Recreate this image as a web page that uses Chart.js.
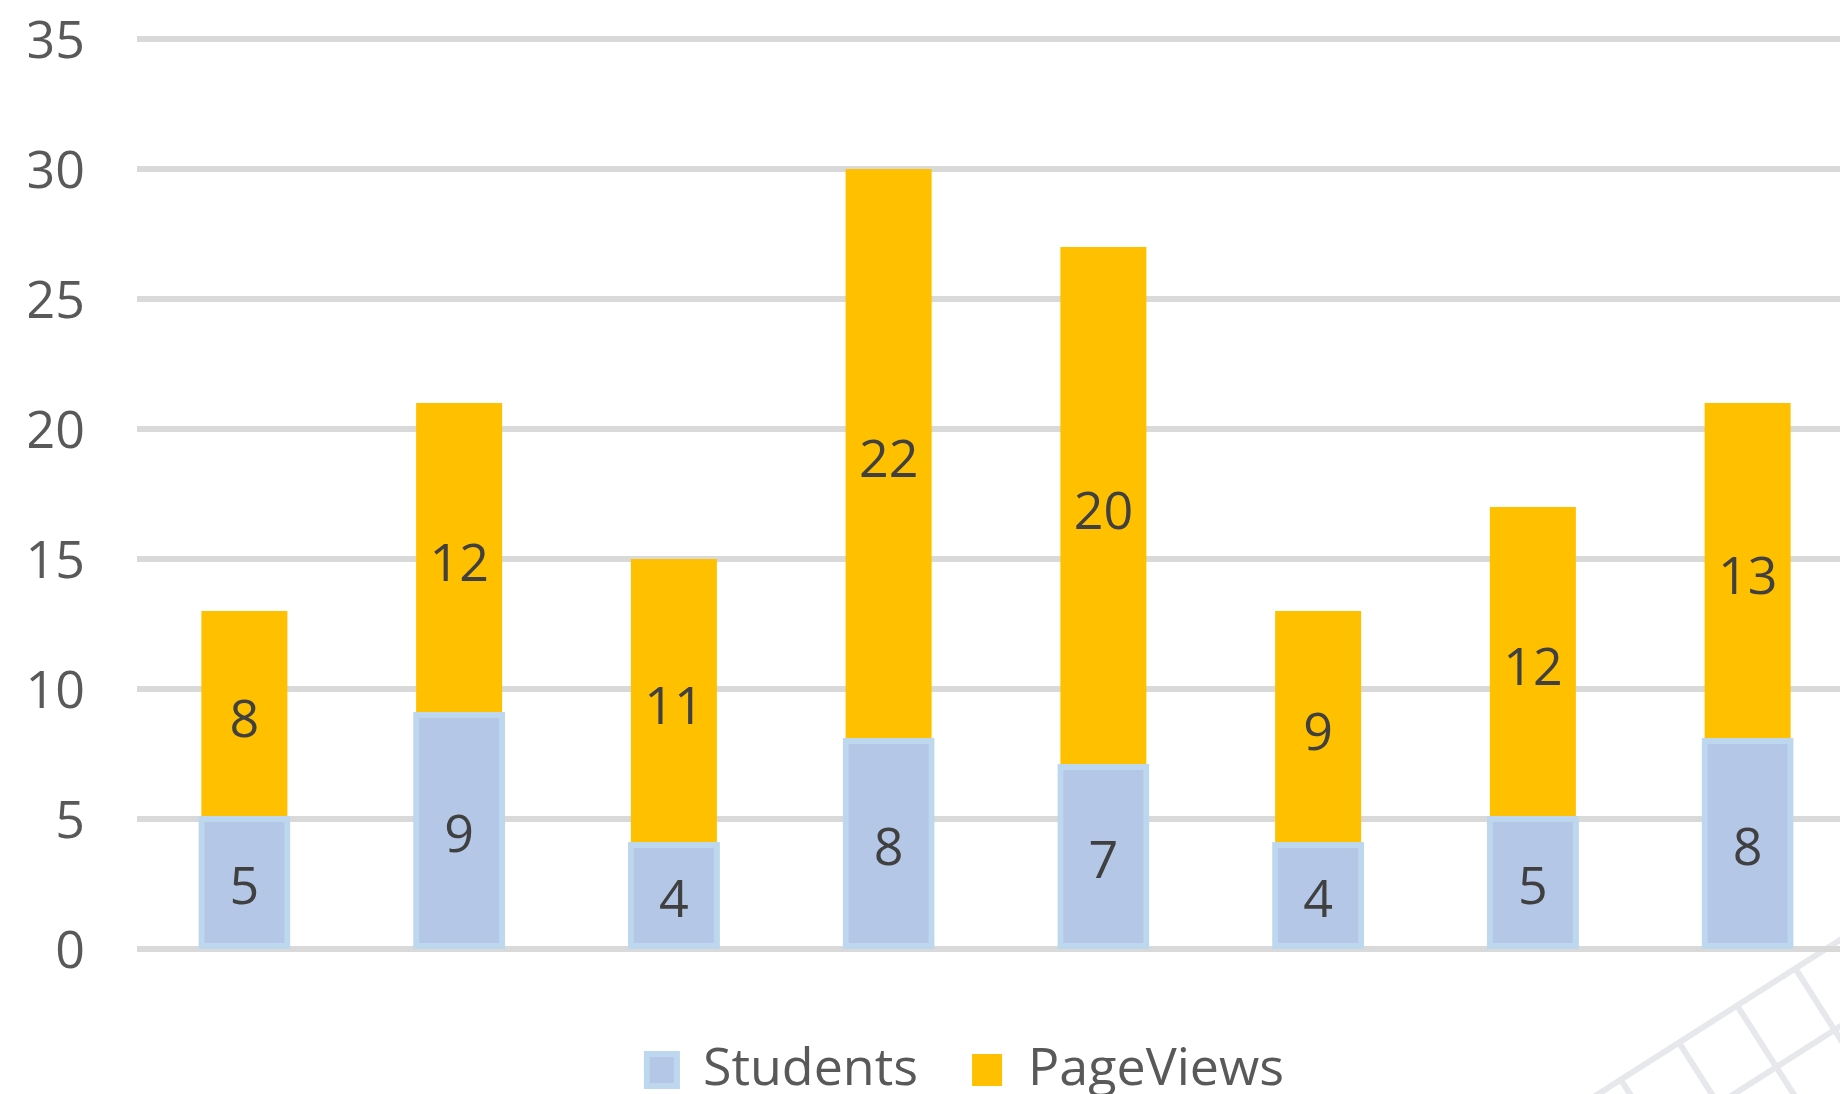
<!DOCTYPE html>
<html>
<head>
<meta charset="utf-8">
<script src="https://cdn.jsdelivr.net/npm/chart.js@4.4.1/dist/chart.umd.min.js"></script>
<style>
  html, body { margin: 0; padding: 0; background: #fff; overflow: hidden; }
  #wrap { width: 1931px; height: 1106px; }
</style>
</head>
<body>
<div id="wrap"><canvas id="chart" width="1931" height="1106"></canvas></div>
<script>
const categories = ['1', '2', '3', '4', '5', '6', '7', '8'];
const students = [5, 9, 4, 8, 7, 4, 5, 8];
const pageViews = [8, 12, 11, 22, 20, 9, 12, 13];
const yMax = 35;
const yStep = 5;

const FONT = '"Open Sans", sans-serif';
const FONT_SIZE = 52;

// faint diagonal grid in the lower right corner of the slide
const watermark = {
    id: 'watermark',
    beforeDraw(chart) {
        const ctx = chart.ctx;
        const ox = 1840, oy = 940;
        const ux = -0.843, uy = 0.537;
        const nx = 0.537, ny = 0.843;
        const len = 700;
        ctx.save();
        ctx.strokeStyle = '#e7e8ec';
        ctx.lineWidth = 6;
        ctx.beginPath();
        for (let k = 0; k < 5; k++) {
            const px = ox + nx * k * 73, py = oy + ny * k * 73;
            ctx.moveTo(px - ux * len, py - uy * len);
            ctx.lineTo(px + ux * len, py + uy * len);
        }
        for (let k = -1; k < 7; k++) {
            const s = 53 + k * 69;
            const px = ox + ux * s, py = oy + uy * s;
            ctx.moveTo(px, py);
            ctx.lineTo(px + nx * len, py + ny * len);
        }
        ctx.stroke();
        ctx.restore();
    }
};

// value in the middle of every stacked segment
const segmentLabels = {
    id: 'segmentLabels',
    afterDatasetsDraw(chart) {
        const ctx = chart.ctx;
        ctx.save();
        ctx.font = FONT_SIZE + 'px ' + FONT;
        ctx.fillStyle = '#404040';
        ctx.textAlign = 'center';
        ctx.textBaseline = 'middle';
        chart.data.datasets.forEach((ds, i) => {
            chart.getDatasetMeta(i).data.forEach((bar, j) => {
                const p = bar.getProps(['x', 'y', 'base'], true);
                // Open Sans sits a little high on "middle"
                ctx.fillText(String(ds.data[j]), p.x, (p.y + p.base) / 2 + 7);
            });
        });
        ctx.restore();
    }
};

// centre the legend on the whole canvas, not on the padded area
const centerLegend = {
    id: 'centerLegend',
    afterLayout(chart) {
        chart.legend.left = 0;
        chart.legend.right = chart.width;
    }
};

new Chart(document.getElementById('chart'), {
    type: 'bar',
    data: {
        labels: categories,
        datasets: [
            {
                label: 'Students',
                data: students,
                backgroundColor: '#b4c7e7',
                borderColor: '#bdd7ee',
                borderWidth: 6,
                borderSkipped: false,
                inflateAmount: 3,
                barThickness: 86
            },
            {
                label: 'PageViews',
                data: pageViews,
                backgroundColor: '#ffc000',
                borderWidth: 0,
                inflateAmount: 0,
                barThickness: 86
            }
        ]
    },
    options: {
        responsive: false,
        animation: false,
        devicePixelRatio: 1,
        layout: { padding: { left: 29, right: 76, top: 39, bottom: 0 } },
        scales: {
            x: {
                stacked: true,
                ticks: { display: false },
                grid: { display: false },
                border: { display: false },
                afterFit(s) { s.height = 41; }
            },
            y: {
                stacked: true,
                min: 0,
                max: yMax,
                ticks: {
                    stepSize: yStep,
                    padding: 52,
                    labelOffset: 4,
                    color: '#595959',
                    font: { family: FONT, size: FONT_SIZE }
                },
                grid: { color: '#d9d9d9', lineWidth: 6, drawTicks: false },
                border: { display: false },
                afterFit(s) {
                    s.width = 108;
                    s.paddingTop = 0;
                    s.paddingBottom = 0;
                }
            }
        },
        plugins: {
            legend: {
                position: 'bottom',
                labels: {
                    boxWidth: 30,
                    boxHeight: 32,
                    padding: 54,
                    color: '#595959',
                    font: { family: FONT, size: FONT_SIZE }
                }
            },
            tooltip: { enabled: false }
        }
    },
    plugins: [watermark, segmentLabels, centerLegend]
});
</script>
</body>
</html>
